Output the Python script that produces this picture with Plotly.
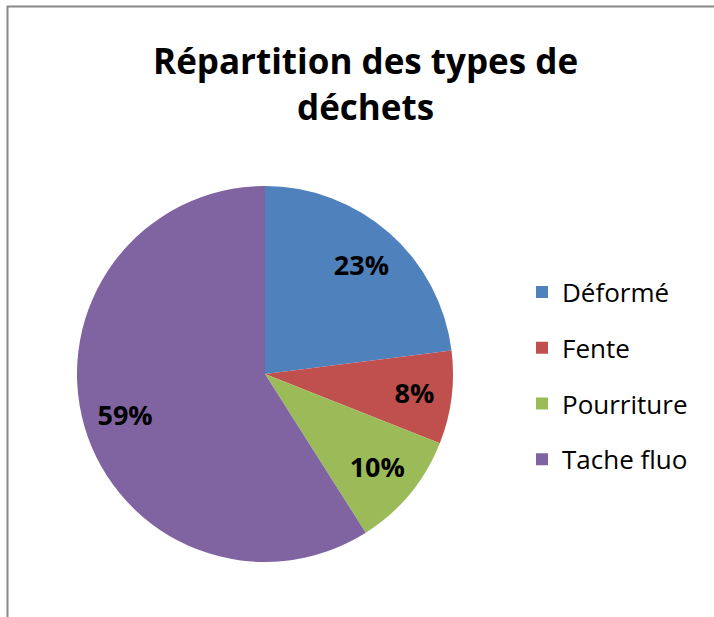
import plotly.graph_objects as go

# waste type breakdown
labels = ['Déformé', 'Fente', 'Pourriture', 'Tache fluo']
values = [23, 8, 10, 59]
colors = ['#4F81BD', '#C0504D', '#9BBB59', '#8064A2']

W, H = 714, 617
pie_dom = dict(x=[77/W, 453/W], y=[1-562/H, 1-186/H])

fig = go.Figure()

#pie itself, clockwise from 12 o'clock
fig.add_trace(go.Pie(
    labels=labels, values=values, sort=False, direction='clockwise',
    marker=dict(colors=colors, line=dict(width=0)),
    textinfo='none', domain=pie_dom,
    showlegend=False, hoverinfo='label+percent',
))

#transparent ring on top just to push the % labels further out like excel does
fig.add_trace(go.Pie(
    labels=labels, values=values, sort=False, direction='clockwise', hole=0.55,
    marker=dict(colors=['rgba(0,0,0,0)']*4, line=dict(width=0)),
    texttemplate='%{percent:.0%}', textposition='inside',
    insidetextorientation='horizontal',
    textfont=dict(family='Open Sans', size=27, color='black', weight='bold'),
    domain=pie_dom, showlegend=False, hoverinfo='skip',
))

#dummy traces so the legend entries can be spaced out
for lab, col in zip(labels, colors):
    fig.add_trace(go.Scatter(
        x=[None], y=[None], mode='markers', name=lab, legendgroup=lab,
        marker=dict(symbol='square', size=13, color=col),
    ))

fig.update_layout(
    width=W, height=H,
    margin=dict(l=0, r=0, t=0, b=0),
    paper_bgcolor='white', plot_bgcolor='white',
    xaxis=dict(visible=False), yaxis=dict(visible=False),
    title=dict(text='<b>Répartition des types de<br>déchets</b>',
               x=0.512, xanchor='center', y=1-74/H, yanchor='top',
               font=dict(family='Open Sans', size=35, color='black')),
    legend=dict(x=522/W, xanchor='left', y=1-376/H, yanchor='middle',
                font=dict(family='Open Sans', size=26, color='black'),
                tracegroupgap=19, itemsizing='constant'),
    shapes=[dict(type='path', xref='paper', yref='paper',
                 path='M {0},0 L {0},{1} L 1,{1}'.format(7.5/W, 1-6.5/H),
                 line=dict(color='#888888', width=2))],
)

#page body has a default 8px margin, drop it so the figure sits at 0,0
fig.write_html("out.html", config={'displayModeBar': False},
               post_script="document.body.style.margin='0';")
